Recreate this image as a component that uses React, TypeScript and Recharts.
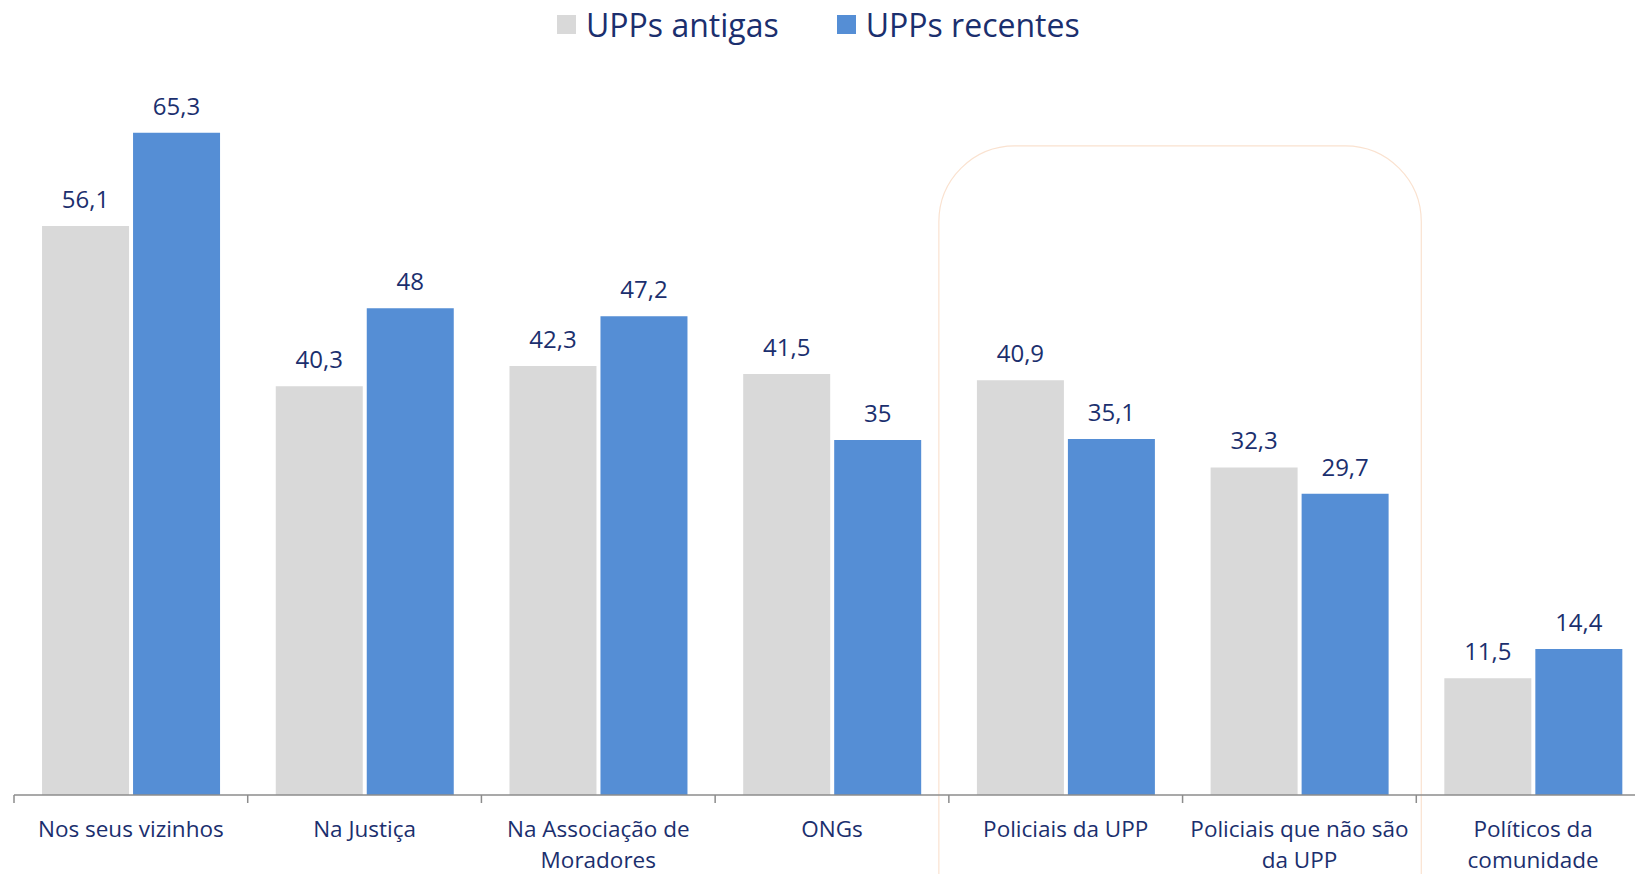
import { Bar, BarChart, LabelList, ReferenceArea, XAxis, YAxis } from "recharts";

const categories = [
  "Nos seus vizinhos",
  "Na Justiça",
  "Na Associação de\nMoradores",
  "ONGs",
  "Policiais da UPP",
  "Policiais que não são\nda UPP",
  "Políticos da\ncomunidade",
];
const antigas = [56.1, 40.3, 42.3, 41.5, 40.9, 32.3, 11.5];
const recentes = [65.3, 48, 47.2, 35, 35.1, 29.7, 14.4];
const seriesNames = ["UPPs antigas", "UPPs recentes"];
const seriesColors = ["#D9D9D9", "#558ED5"];
const highlighted = ["Policiais da UPP", "Policiais que não são\nda UPP"];

const data = categories.map((name, i) => ({ name, antigas: antigas[i], recentes: recentes[i] }));

const WIDTH = 1670;
const HEIGHT = 900;
const MARGIN = { top: 85, right: 20, left: 14, bottom: 0 };
const BAND = (WIDTH - MARGIN.left - MARGIN.right) / categories.length;
const TEXT = "#1B2F6E";
const AXIS = "#8C8C8C";
const FONT = "'Open Sans', sans-serif";

const fmt = (v: any) => String(v).replace(".", ",");

function CategoryTick(props: any) {
  const { x, y, payload, index } = props;
  const lines = String(payload.value).split("\n");
  const half = BAND / 2;
  return (
    <g>
      <line x1={x - half} x2={x - half} y1={y} y2={y + 8} stroke={AXIS} strokeWidth={1.5} />
      {index === categories.length - 1 && (
        <line x1={x + half} x2={x + half} y1={y} y2={y + 8} stroke={AXIS} strokeWidth={1.5} />
      )}
      <text x={x} y={y} textAnchor="middle" fill={TEXT} fontSize={22.5} fontFamily={FONT}>
        {lines.map((l, i) => (
          <tspan key={i} x={x} dy={i === 0 ? 42 : 31}>
            {l}
          </tspan>
        ))}
      </text>
    </g>
  );
}

function RoundedFrame(props: any) {
  const { x, y, width } = props;
  const left = x - 10;
  const right = x + width + 5;
  const bottom = 1000;
  const r = 76;
  const d = `M${left},${bottom} L${left},${y + r} A${r},${r} 0 0 1 ${left + r},${y} L${right - r},${y} A${r},${r} 0 0 1 ${right},${y + r} L${right},${bottom}`;
  return <path d={d} fill="none" stroke="#FAE2D0" strokeWidth={1.2} />;
}

export default function App() {
  return (
    <div
      style={{
        position: "fixed",
        top: 0,
        left: 0,
        width: 1635,
        height: 874,
        overflow: "hidden",
        background: "#fff",
        fontFamily: FONT,
      }}
    >
      <div
        style={{
          position: "absolute",
          top: 0,
          left: 557,
          height: 48,
          display: "flex",
          alignItems: "center",
          gap: 58,
          color: TEXT,
          fontSize: 32,
        }}
      >
        {seriesNames.map((n, i) => (
          <div key={n} style={{ display: "flex", alignItems: "center", gap: 10 }}>
            <span style={{ width: 19, height: 19, background: seriesColors[i], display: "inline-block" }} />
            <span>{n}</span>
          </div>
        ))}
      </div>
      <BarChart width={WIDTH} height={HEIGHT} data={data} margin={MARGIN} barCategoryGap="12%" barGap={4}>
        <XAxis
          dataKey="name"
          interval={0}
          height={105}
          tickSize={0}
          tickMargin={0}
          tickLine={false}
          axisLine={{ stroke: AXIS, strokeWidth: 1.5 }}
          tick={<CategoryTick />}
        />
        <YAxis hide domain={[0, 70]} />
        <ReferenceArea
          x1={highlighted[0]}
          x2={highlighted[1]}
          y1={0}
          y2={64}
          ifOverflow="visible"
          shape={<RoundedFrame />}
        />
        <Bar dataKey="antigas" name={seriesNames[0]} fill={seriesColors[0]} isAnimationActive={false}>
          <LabelList dataKey="antigas" position="top" offset={18} formatter={fmt} fill={TEXT} fontSize={24} fontFamily={FONT} />
        </Bar>
        <Bar dataKey="recentes" name={seriesNames[1]} fill={seriesColors[1]} isAnimationActive={false}>
          <LabelList dataKey="recentes" position="top" offset={18} formatter={fmt} fill={TEXT} fontSize={24} fontFamily={FONT} />
        </Bar>
      </BarChart>
    </div>
  );
}
